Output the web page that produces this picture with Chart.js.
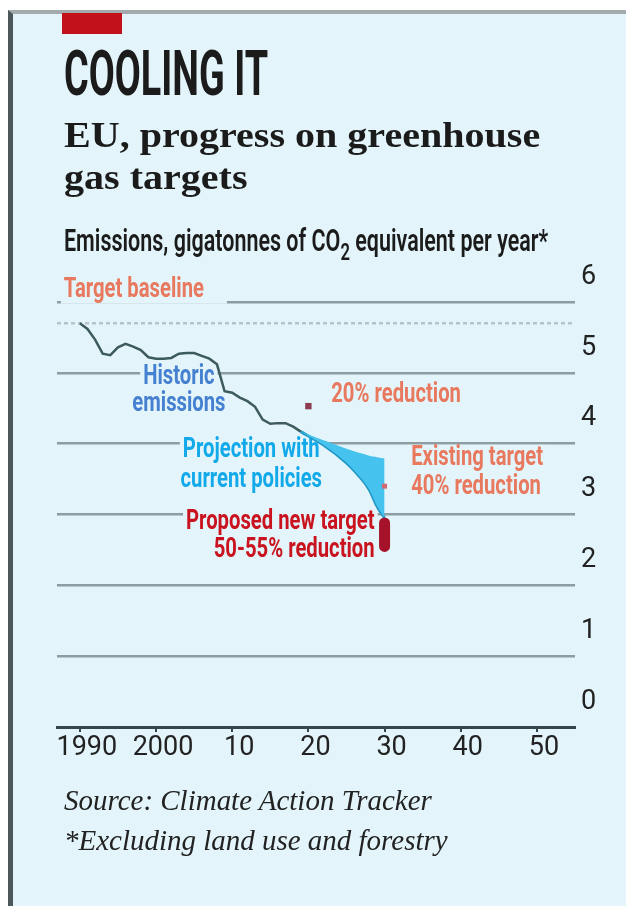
<!DOCTYPE html>
<html>
<head>
<meta charset="utf-8">
<script src="https://cdn.jsdelivr.net/npm/chart.js@4.4.1/dist/chart.umd.min.js"></script>
<style>
html, body { margin: 0; padding: 0; background: #fff; }
#page { position: relative; width: 626px; height: 906px; overflow: hidden; background: #fff; }
#panel { position: absolute; left: 8px; top: 10px; right: 0; bottom: 0; background: #e3f5fa;
         border-top: 4px solid #a3abad; border-left: 5px solid #4d585b; }
#tab { position: absolute; left: 62px; top: 13px; width: 60px; height: 21px; background: #c3111c; }
.t { position: absolute; left: 64px; white-space: nowrap; transform-origin: 0 0; color: #1b1b1b; }
#title { font: 700 63px Roboto, sans-serif; line-height: 63px; top: 42px; }
.sub { font: 700 35px "Liberation Serif", serif; line-height: 35px; }
#sub1 { top: 118px; }
#sub2 { top: 160px; }
#axisTitle { font: 600 31px Roboto, sans-serif; line-height: 31px; top: 225px; }
#axisTitle span { font-size: 24px; position: relative; top: 9px; }
.src { font: italic 30px "Liberation Serif", serif; line-height: 30px; color: #222; }
#src1 { top: 785px; }
#src2 { top: 825px; }
canvas { position: absolute; left: 0; top: 0; }
</style>
</head>
<body>
<div id="page">
  <div id="panel"></div>
  <div id="tab"></div>
  <canvas id="chart" width="626" height="906"></canvas>
  <div class="t" id="title">COOLING IT</div>
  <div class="t sub" id="sub1">EU, progress on greenhouse</div>
  <div class="t sub" id="sub2">gas targets</div>
  <div class="t" id="axisTitle">Emissions, gigatonnes of CO<span>2</span> equivalent per year*</div>
  <div class="t src" id="src1">Source: Climate Action Tracker</div>
  <div class="t src" id="src2">*Excluding land use and forestry</div>
</div>
<script>
// Historic emissions, Gt CO2e
const histYears = [1990, 1991, 1992, 1993, 1994, 1995, 1996, 1997, 1998, 1999,
                   2000, 2001, 2002, 2003, 2004, 2005, 2006, 2007, 2008, 2009,
                   2010, 2011, 2012, 2013, 2014, 2015, 2016, 2017, 2018, 2019];
const histValues = [5.70, 5.62, 5.47, 5.27, 5.25, 5.36, 5.41, 5.37, 5.32, 5.22,
                    5.20, 5.20, 5.21, 5.27, 5.28, 5.28, 5.24, 5.20, 5.12, 4.74,
                    4.72, 4.65, 4.60, 4.52, 4.34, 4.28, 4.29, 4.29, 4.24, 4.17];

// Projection with current policies (range)
const projYears = [2019, 2022, 2025, 2027, 2028, 2029, 2030];
const projHigh = [4.17, 4.05, 3.93, 3.86, 3.83, 3.81, 3.79];
const projLow = [4.17, 3.98, 3.73, 3.50, 3.35, 3.12, 2.95];

// Targets
const baseline = 5.70;
const target20 = { year: 2020, value: 4.53 };
const target40 = { year: 2030, value: 3.40 };
const targetNew = [2.88, 2.55]; // 50% and 55% reduction, 2030

const xMin = 1987, xMax = 2055;
const xTicks = [1990, 2000, 2010, 2020, 2030, 2040, 2050];
const xTickLabels = ['1990', '2000', '10', '20', '30', '40', '50'];

const PANEL = '#e3f5fa';
const SQUEEZE = 0.75;

// Chart annotations, placed in data units
const notes = [
  { text: 'Target baseline', year: 1987.9, value: 6.16, align: 'left', color: '#e8785e', mask: 20 },
  { text: 'Historic', year: 2003.0, value: 4.94, align: 'center', color: '#4581d0' },
  { text: 'emissions', year: 2003.0, value: 4.55, align: 'center', color: '#4581d0' },
  { text: '20% reduction', year: 2023.0, value: 4.69, align: 'left', color: '#e8785e' },
  { text: 'Projection with', year: 2012.5, value: 3.91, align: 'center', color: '#12a9ea' },
  { text: 'current policies', year: 2012.5, value: 3.49, align: 'center', color: '#12a9ea' },
  { text: 'Existing target', year: 2033.5, value: 3.80, align: 'left', color: '#e8785e' },
  { text: '40% reduction', year: 2033.5, value: 3.39, align: 'left', color: '#e8785e' },
  { text: 'Proposed new target', year: 2028.7, value: 2.89, align: 'right', color: '#c9141f' },
  { text: '50-55% reduction', year: 2028.7, value: 2.50, align: 'right', color: '#c9141f' }
];

const notePlugin = {
  id: 'notes',
  beforeDatasetsDraw(chart) {
    const { ctx, scales: { x, y } } = chart;
    ctx.save();
    ctx.font = '700 27px Roboto';
    ctx.textBaseline = 'middle';
    ctx.textAlign = 'left';
    notes.forEach(n => {
      const px = x.getPixelForValue(n.year);
      const py = y.getPixelForValue(n.value);
      const w = ctx.measureText(n.text).width * SQUEEZE;
      const left = n.align === 'left' ? px : n.align === 'right' ? px - w : px - w / 2;
      ctx.fillStyle = PANEL;
      ctx.fillRect(left - 3, py - 13, w + 6 + (n.mask || 0), 26);
      ctx.save();
      ctx.translate(left, py);
      ctx.scale(SQUEEZE, 1);
      ctx.fillStyle = n.color;
      ctx.fillText(n.text, 0, 0);
      ctx.restore();
    });
    ctx.restore();
  }
};

const xy = (xs, ys) => xs.map((v, i) => ({ x: v, y: ys[i] }));

new Chart(document.getElementById('chart'), {
  type: 'line',
  data: {
    datasets: [{
      // proposed new target bar
      data: targetNew.map(v => ({ x: 2030, y: v })),
      borderColor: '#a51229', borderWidth: 11, borderCapStyle: 'round',
      pointRadius: 0, order: 1
    }, {
      data: [{ x: target20.year, y: target20.value }],
      showLine: false, pointStyle: 'rect', pointRadius: 4.5,
      pointBackgroundColor: '#8c3b50', pointBorderWidth: 0, order: 2
    }, {
      data: [{ x: target40.year, y: target40.value }],
      showLine: false, pointStyle: 'rect', pointRadius: 3.5,
      pointBackgroundColor: '#d3696f', pointBorderWidth: 0, order: 2
    }, {
      data: xy(histYears, histValues),
      borderColor: '#3d5a5c', borderWidth: 2.5, pointRadius: 0, tension: 0, order: 3
    }, {
      data: xy(projYears, projHigh),
      borderWidth: 0, pointRadius: 0, tension: 0.3,
      fill: '+1', backgroundColor: '#45c2ee', order: 4
    }, {
      data: xy(projYears, projLow),
      borderColor: '#2196c4', borderWidth: 3, pointRadius: 0, tension: 0.3, order: 5
    }, {
      data: [{ x: xMin, y: baseline }, { x: xMax, y: baseline }],
      borderColor: '#b7c4c8', borderWidth: 2.5, borderDash: [4, 3], pointRadius: 0, order: 6
    }]
  },
  options: {
    responsive: false,
    animation: false,
    layout: { padding: { left: 57, top: 302, right: 0, bottom: 0 } },
    plugins: { legend: { display: false }, tooltip: { enabled: false } },
    scales: {
      x: {
        type: 'linear', min: xMin, max: xMax,
        afterBuildTicks: s => { s.ticks = xTicks.map(v => ({ value: v })); },
        afterFit: s => { s.height = 179; },
        grid: { drawOnChartArea: false, color: '#34464a', lineWidth: 2, tickLength: 5 },
        border: { color: '#34464a', width: 3 },
        ticks: {
          callback: v => xTickLabels[xTicks.indexOf(v)],
          font: { family: 'Roboto', size: 27 }, color: '#222',
          labelOffset: 7, padding: 0, maxRotation: 0, autoSkip: false
        }
      },
      y: {
        position: 'right', min: 0, max: 6,
        afterFit: s => { s.width = 51; },
        grid: { drawTicks: false, color: '#8e9da1', lineWidth: c => c.tick.value === 0 ? 0 : 2.5 },
        border: { display: false },
        ticks: { stepSize: 1, padding: 6, labelOffset: -25, font: { family: 'Roboto', size: 27 }, color: '#222' }
      }
    }
  },
  plugins: [notePlugin]
});

// squeeze the condensed headline fonts to their printed widths
function fit(ids, width) {
  const k = width / document.getElementById(ids[0]).offsetWidth;
  ids.forEach(id => { document.getElementById(id).style.transform = 'scaleX(' + k + ')'; });
}
fit(['title'], 204);
fit(['sub1', 'sub2'], 476);
fit(['axisTitle'], 484);
fit(['src1', 'src2'], 368);
</script>
</body>
</html>
